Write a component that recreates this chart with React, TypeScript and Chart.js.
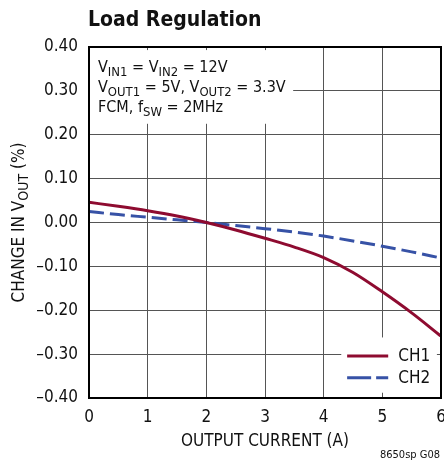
import React, { useEffect, useRef } from 'react';
import { Chart, registerables } from 'chart.js';

Chart.register(...registerables);

// ---- data ----
const currentA = [0, 0.5, 1, 1.5, 2, 2.5, 3, 3.5, 4, 4.5, 5, 5.5, 6];
const ch1Change = [0.046, 0.037, 0.027, 0.015, 0.0, -0.017, -0.036, -0.056, -0.080, -0.114, -0.158, -0.206, -0.259];
const ch2Change = [0.025, 0.018, 0.012, 0.006, 0.0, -0.007, -0.014, -0.022, -0.031, -0.042, -0.054, -0.067, -0.081];
const seriesNames = ['CH1', 'CH2'];
const xTickValues = [0, 1, 2, 3, 4, 5, 6];
const yTickValues = [0.4, 0.3, 0.2, 0.1, 0, -0.1, -0.2, -0.3, -0.4];

const FONT = '"Liberation Sans Narrow", "Arial Narrow", "DejaVu Sans Condensed", "Liberation Sans", sans-serif';
const RED = '#8E0B30';
const BLUE = '#3752A6';

type Part = [string, boolean];

function drawRich(ctx: CanvasRenderingContext2D, parts: Part[], x: number, y: number, size: number, subSize: number, subDrop: number) {
  let cx = x;
  for (const [t, sub] of parts) {
    ctx.font = `${sub ? subSize : size}px ${FONT}`;
    ctx.fillText(t, cx, sub ? y + subDrop : y);
    cx += ctx.measureText(t).width;
  }
}
function richWidth(ctx: CanvasRenderingContext2D, parts: Part[], size: number, subSize: number) {
  let w = 0;
  for (const [t, sub] of parts) {
    ctx.font = `${sub ? subSize : size}px ${FONT}`;
    w += ctx.measureText(t).width;
  }
  return w;
}

const decorPlugin = {
  id: 'decor',
  beforeDatasetsDraw(chart: any) {
    const ctx = chart.ctx as CanvasRenderingContext2D;
    const xs = chart.scales.x;
    const ys = chart.scales.y;
    ctx.save();
    ctx.fillStyle = '#fff';
    // annotation box
    const ax0 = xs.getPixelForValue(0) + 1;
    const ax1 = xs.getPixelForValue(3.48);
    const ay0 = ys.getPixelForValue(0.393);
    const ay1 = ys.getPixelForValue(0.225);
    ctx.fillRect(ax0, ay0, ax1 - ax0, ay1 - ay0);
    // legend box
    const lx0 = xs.getPixelForValue(4.3);
    const lx1 = xs.getPixelForValue(5.93);
    const ly0 = ys.getPixelForValue(-0.262);
    const ly1 = ys.getPixelForValue(-0.388);
    ctx.fillRect(lx0, ly0, lx1 - lx0, ly1 - ly0);
    ctx.restore();
  },
  afterDraw(chart: any) {
    const ctx = chart.ctx as CanvasRenderingContext2D;
    const a = chart.chartArea;
    const xs = chart.scales.x;
    const ys = chart.scales.y;
    ctx.save();
    // frame
    ctx.strokeStyle = '#000';
    ctx.lineWidth = 2;
    ctx.strokeRect(a.left, a.top, a.right - a.left, a.bottom - a.top);

    ctx.fillStyle = '#111';
    ctx.textBaseline = 'alphabetic';
    ctx.textAlign = 'left';
    // title
    ctx.font = `bold 21px ${FONT}`;
    ctx.fillText('Load Regulation', 88, 26);

    // annotation
    const ax = a.left + 9;
    drawRich(ctx, [['V', false], ['IN1', true], [' = V', false], ['IN2', true], [' = 12V', false]], ax, 72, 16, 13, 4);
    drawRich(ctx, [['V', false], ['OUT1', true], [' = 5V, V', false], ['OUT2', true], [' = 3.3V', false]], ax, 92, 16, 13, 4);
    drawRich(ctx, [['FCM, f', false], ['SW', true], [' = 2MHz', false]], ax, 112, 16, 13, 4);

    // legend
    const legX0 = xs.getPixelForValue(4.4);
    const legX1 = xs.getPixelForValue(5.1);
    const legY = [ys.getPixelForValue(-0.304), ys.getPixelForValue(-0.354)];
    ctx.lineWidth = 3;
    ctx.strokeStyle = RED;
    ctx.setLineDash([]);
    ctx.beginPath();
    ctx.moveTo(legX0, legY[0]);
    ctx.lineTo(legX1, legY[0]);
    ctx.stroke();
    ctx.strokeStyle = BLUE;
    ctx.setLineDash([24, 5]);
    ctx.beginPath();
    ctx.moveTo(legX0, legY[1]);
    ctx.lineTo(legX1, legY[1]);
    ctx.stroke();
    ctx.setLineDash([]);
    ctx.font = `17px ${FONT}`;
    ctx.textBaseline = 'middle';
    ctx.fillText(seriesNames[0], legX1 + 10, legY[0] + 1);
    ctx.fillText(seriesNames[1], legX1 + 10, legY[1] + 1);

    // x title
    ctx.textBaseline = 'alphabetic';
    ctx.textAlign = 'center';
    ctx.font = `17px ${FONT}`;
    ctx.fillText('OUTPUT CURRENT (A)', (a.left + a.right) / 2, 446);

    // y title (rotated)
    const yParts: Part[] = [['CHANGE IN V', false], ['OUT', true], [' (%)', false]];
    const w = richWidth(ctx, yParts, 17, 14);
    ctx.save();
    ctx.translate(24, (a.top + a.bottom) / 2);
    ctx.rotate(-Math.PI / 2);
    ctx.textAlign = 'left';
    drawRich(ctx, yParts, -w / 2, 0, 17, 14, 4);
    ctx.restore();

    // footnote
    ctx.textAlign = 'right';
    ctx.font = `11px ${FONT}`;
    ctx.fillText('8650sp G08', 440, 458);
    ctx.restore();
  },
};

function fmtY(v: number) {
  if (Math.abs(v) < 1e-9) return '0.00';
  return v < 0 ? '\u2013' + Math.abs(v).toFixed(2) : v.toFixed(2);
}

export default function App() {
  const ref = useRef<HTMLCanvasElement | null>(null);
  useEffect(() => {
    document.body.style.margin = '0';
    const canvas = ref.current;
    if (!canvas) return;
    const chart = new Chart(canvas, {
      type: 'line',
      data: {
        datasets: [
          {
            label: seriesNames[0],
            data: currentA.map((x, i) => ({ x, y: ch1Change[i] })),
            borderColor: RED,
            borderWidth: 3,
            pointRadius: 0,
            cubicInterpolationMode: 'monotone',
            fill: false,
          },
          {
            label: seriesNames[1],
            data: currentA.map((x, i) => ({ x, y: ch2Change[i] })),
            borderColor: BLUE,
            borderWidth: 3,
            borderDash: [15, 6],
            pointRadius: 0,
            cubicInterpolationMode: 'monotone',
            fill: false,
          },
        ],
      },
      options: {
        responsive: false,
        animation: false,
        devicePixelRatio: 1,
        layout: { padding: { top: 47, right: 3, left: 0, bottom: 0 }, autoPadding: false },
        plugins: { legend: { display: false }, tooltip: { enabled: false }, title: { display: false } },
        scales: {
          x: {
            type: 'linear',
            min: 0,
            max: 6,
            afterFit: (s: any) => { s.height = 69; s.paddingLeft = 0; s.paddingRight = 0; },
            afterBuildTicks: (s: any) => { s.ticks = xTickValues.map((v) => ({ value: v })); },
            grid: { color: '#555', lineWidth: 1, drawTicks: false },
            border: { color: '#000', width: 2 },
            ticks: {
              padding: 9,
              color: '#111',
              maxRotation: 0,
              font: { family: FONT, size: 17 },
              callback: (v: any) => String(v),
            },
          },
          y: {
            type: 'linear',
            min: -0.4,
            max: 0.4,
            afterFit: (s: any) => { s.width = 89; s.paddingTop = 0; s.paddingBottom = 0; },
            afterBuildTicks: (s: any) => { s.ticks = yTickValues.map((v) => ({ value: v })); },
            grid: { color: '#555', lineWidth: 1, drawTicks: false },
            border: { color: '#000', width: 2 },
            ticks: {
              padding: 11,
              color: '#111',
              font: { family: FONT, size: 17 },
              callback: (v: any) => fmtY(Number(v)),
            },
          },
        },
      } as any,
      plugins: [decorPlugin],
    });
    return () => chart.destroy();
  }, []);
  return (
    <div style={{ position: 'absolute', left: 0, top: 0, width: 444, height: 467, background: '#fff' }}>
      <canvas ref={ref} width={444} height={467} style={{ width: 444, height: 467, display: 'block' }} />
    </div>
  );
}
